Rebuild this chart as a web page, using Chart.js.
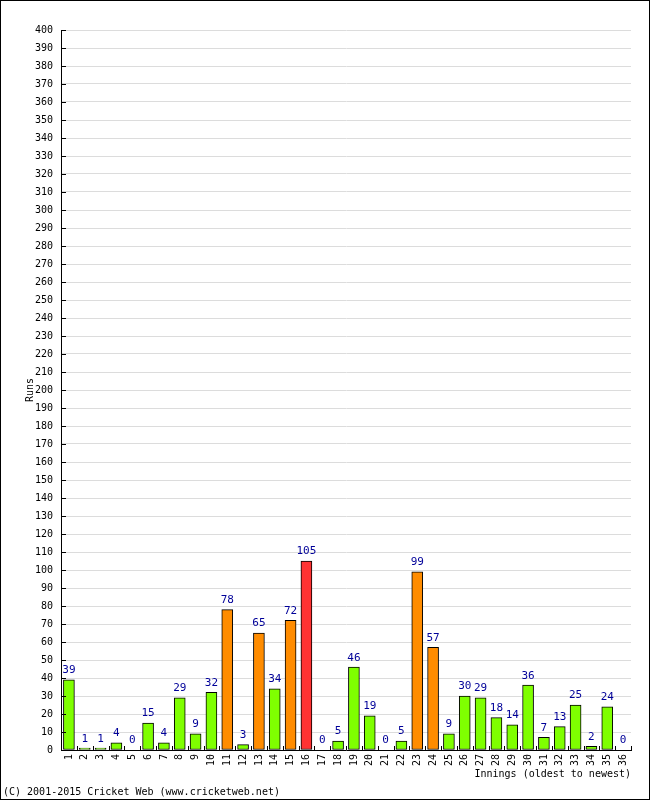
<!DOCTYPE html>
<html>
<head>
<meta charset="utf-8">
<script src="https://cdn.jsdelivr.net/npm/chart.js@4"></script>
<style>
  html, body { margin: 0; padding: 0; background: #fff; }
  #wrap { width: 650px; height: 800px; }
</style>
</head>
<body>
<div id="wrap"><canvas id="runsChart" width="650" height="800"></canvas></div>
<script>
const innings = Array.from({ length: 36 }, (_, i) => String(i + 1));
const runs = [
  39, 1, 1, 4, 0, 15, 4, 29, 9, 32, 78, 3, 65, 34, 72, 105, 0, 5, 46, 19, 0, 5,
  99, 57, 9, 30, 29, 18, 14, 36, 7, 13, 25, 2, 24, 0,
];
const footerText = "(C) 2001-2015 Cricket Web (www.cricketweb.net)";

const mono = "'DejaVu Sans Mono', monospace";

function barColor(v) {
  if (v >= 100) return "#ff3333";
  if (v >= 50) return "#ff8c00";
  return "#7fff00";
}

// inward tick marks, value labels, footer and outer frame
const extras = {
  id: "extras",
  afterDatasetsDraw(chart) {
    const { ctx, chartArea, scales } = chart;
    ctx.save();
    ctx.strokeStyle = "#000";
    ctx.lineWidth = 1;
    ctx.beginPath();
    scales.y.ticks.forEach((t) => {
      const y = Math.round(scales.y.getPixelForValue(t.value)) + 0.5;
      ctx.moveTo(chartArea.left, y);
      ctx.lineTo(chartArea.left + 5, y);
    });
    const slot = (chartArea.right - chartArea.left) / innings.length;
    for (let i = 1; i <= innings.length; i++) {
      const x = Math.round(chartArea.left + i * slot) + 0.5;
      ctx.moveTo(x, chartArea.bottom);
      ctx.lineTo(x, chartArea.bottom - 4);
    }
    ctx.stroke();

    ctx.fillStyle = "#000099";
    ctx.font = "11px " + mono;
    ctx.textAlign = "center";
    ctx.textBaseline = "bottom";
    chart.getDatasetMeta(0).data.forEach((bar, i) => {
      ctx.fillText(String(runs[i]), bar.x, bar.y - 4);
    });

    ctx.fillStyle = "#000";
    ctx.font = "10px " + mono;
    ctx.textAlign = "left";
    ctx.textBaseline = "middle";
    ctx.fillText(footerText, 3, 792);

    ctx.strokeRect(0.5, 0.5, 649, 799);
    ctx.restore();
  },
};

const runsChart = new Chart(document.getElementById("runsChart"), {
  type: "bar",
  data: {
    labels: innings,
    datasets: [
      {
        label: "Runs",
        data: runs,
        backgroundColor: runs.map(barColor),
        borderColor: "#000",
        borderWidth: 1,
        borderSkipped: false,
        barThickness: 11,
      },
    ],
  },
  options: {
    responsive: false,
    animation: false,
    layout: { padding: { left: 24, top: 30, right: 19, bottom: 20 } },
    plugins: {
      legend: { display: false },
      tooltip: { enabled: false },
    },
    scales: {
      x: {
        grid: { display: false, drawTicks: false },
        border: { color: "#000" },
        ticks: {
          color: "#000",
          font: { family: mono, size: 10 },
          minRotation: 90,
          maxRotation: 90,
          autoSkip: false,
          padding: 4,
        },
        title: {
          display: true,
          text: "Innings (oldest to newest)",
          align: "end",
          color: "#000",
          font: { family: mono, size: 10 },
          padding: 0,
        },
        afterFit(scale) {
          scale.height = 30;
        },
      },
      y: {
        min: 0,
        max: 400,
        grid: { color: "#dcdcdc", drawTicks: false },
        border: { color: "#000" },
        ticks: {
          stepSize: 10,
          color: "#000",
          font: { family: mono, size: 10 },
          padding: 8,
        },
        title: {
          display: true,
          text: "Runs",
          color: "#000",
          font: { family: mono, size: 10 },
          padding: 0,
        },
        afterFit(scale) {
          scale.width = 37;
        },
      },
    },
  },
  plugins: [extras],
});
</script>
</body>
</html>
